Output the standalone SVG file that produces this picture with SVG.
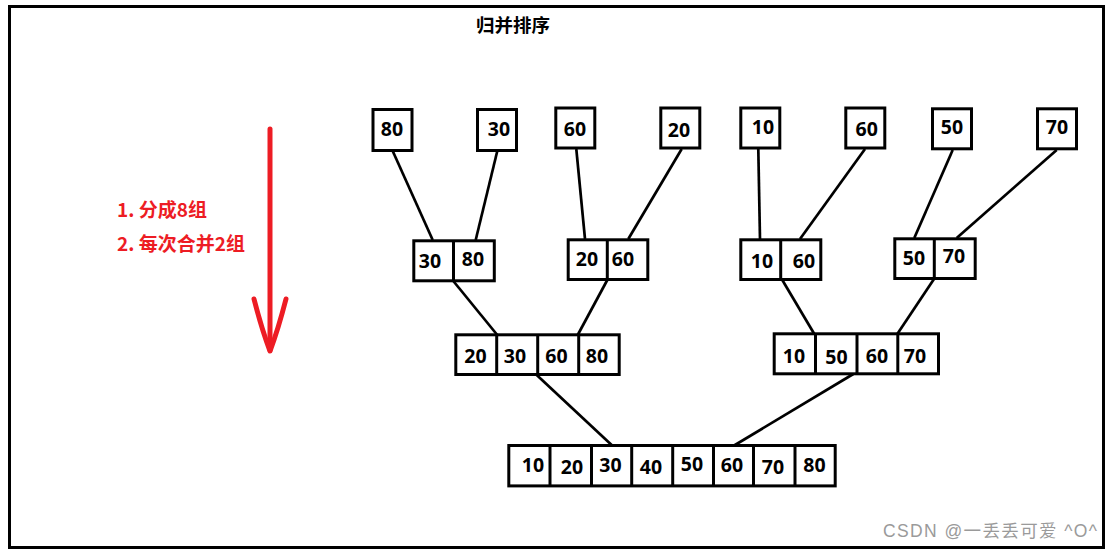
<svg xmlns="http://www.w3.org/2000/svg" width="1110" height="556" viewBox="0 0 1110 556">
<style>
.box{fill:#fff;stroke:#000;stroke-width:3}
.dv{stroke:#000;stroke-width:3}
.edge{stroke:#000;stroke-width:2.7;fill:none}
.num{font-family:"Noto Sans","Open Sans","Liberation Sans",sans-serif;font-weight:700;font-size:19.5px;text-anchor:middle;fill:#000}
.red{font-family:"Noto Sans CJK SC","Noto Sans",sans-serif;font-weight:700;font-size:19px;fill:#ED1C24}
</style>
<rect x="0" y="0" width="1110" height="556" fill="#fff"/>
<rect x="9.5" y="6.5" width="1094" height="541" fill="none" stroke="#000" stroke-width="3"/>
<text id="title" x="476" y="32" font-family="'Noto Sans CJK SC',sans-serif" font-weight="700" font-size="18.5px" fill="#000">归并排序</text>
<g id="steps">
<text class="red" x="117" y="217" textLength="90">1. 分成8组</text>
<text class="red" x="117" y="251" textLength="128">2. 每次合并2组</text>
</g>
<g id="arrow" stroke="#ED1C24" stroke-width="5" fill="none" stroke-linecap="round" stroke-linejoin="round">
<line x1="270" y1="129" x2="270" y2="350"/>
<path d="M254,299 Q262,330 270,351 Q278,330 286,299"/>
</g>
<g id="connectors">
<line class="edge" x1="392.7" y1="151" x2="432.7" y2="240"/>
<line class="edge" x1="497.3" y1="151" x2="475.7" y2="240"/>
<line class="edge" x1="576.3" y1="149" x2="585" y2="239"/>
<line class="edge" x1="681.7" y1="149" x2="628.3" y2="239"/>
<line class="edge" x1="758.3" y1="149" x2="760" y2="239"/>
<line class="edge" x1="865" y1="149" x2="800" y2="239"/>
<line class="edge" x1="952.7" y1="150" x2="914.3" y2="238"/>
<line class="edge" x1="1056.7" y1="150" x2="956.7" y2="238"/>
<line class="edge" x1="453.3" y1="281" x2="497.3" y2="335"/>
<line class="edge" x1="607.3" y1="280" x2="577.7" y2="335"/>
<line class="edge" x1="782.3" y1="280" x2="814.3" y2="334"/>
<line class="edge" x1="934" y1="279" x2="897.3" y2="334"/>
<line class="edge" x1="536.7" y1="375" x2="612.7" y2="446"/>
<line class="edge" x1="853.3" y1="374" x2="733.3" y2="446"/>
</g>
<g id="leaf-80"><rect class="box" x="373" y="109.5" width="39" height="41"/><text class="num" x="392" y="135.7">80</text></g>
<g id="leaf-30"><rect class="box" x="477.5" y="109.5" width="39" height="41"/><text class="num" x="499" y="135.7">30</text></g>
<g id="leaf-60a"><rect class="box" x="555.8" y="108" width="39" height="40"/><text class="num" x="575" y="135.7">60</text></g>
<g id="leaf-20"><rect class="box" x="660.8" y="108" width="39" height="40"/><text class="num" x="679" y="136.7">20</text></g>
<g id="leaf-10"><rect class="box" x="740.8" y="108" width="39" height="40"/><text class="num" x="763" y="134.3">10</text></g>
<g id="leaf-60b"><rect class="box" x="845.8" y="108" width="39" height="40"/><text class="num" x="866.7" y="136">60</text></g>
<g id="leaf-50"><rect class="box" x="932.5" y="108.8" width="39" height="40"/><text class="num" x="952" y="134">50</text></g>
<g id="leaf-70"><rect class="box" x="1037.5" y="108.8" width="39" height="40"/><text class="num" x="1057" y="134">70</text></g>
<g id="pair-30-80"><rect class="box" x="413.8" y="240.8" width="80.5" height="40"/><line class="dv" x1="453.5" y1="240.8" x2="453.5" y2="280.8"/><text class="num" x="430" y="267.7">30</text><text class="num" x="473" y="265.7">80</text></g>
<g id="pair-20-60"><rect class="box" x="568.2" y="239.8" width="79.6" height="39.7"/><line class="dv" x1="607.3" y1="239.8" x2="607.3" y2="279.5"/><text class="num" x="587" y="265.7">20</text><text class="num" x="623" y="265.7">60</text></g>
<g id="pair-10-60"><rect class="box" x="740.8" y="239.8" width="80" height="39.7"/><line class="dv" x1="780.7" y1="239.8" x2="780.7" y2="279.5"/><text class="num" x="762" y="267.7">10</text><text class="num" x="804" y="267.7">60</text></g>
<g id="pair-50-70"><rect class="box" x="894.8" y="238.8" width="80.4" height="39.7"/><line class="dv" x1="934.3" y1="238.8" x2="934.3" y2="278.5"/><text class="num" x="914" y="265">50</text><text class="num" x="954" y="263.3">70</text></g>
<g id="quad-left"><rect class="box" x="455.8" y="334.8" width="163.4" height="39.7"/><line class="dv" x1="496.7" y1="334.8" x2="496.7" y2="374.5"/><line class="dv" x1="537.7" y1="334.8" x2="537.7" y2="374.5"/><line class="dv" x1="578.7" y1="334.8" x2="578.7" y2="374.5"/><text class="num" x="475.5" y="362.7">20</text><text class="num" x="515" y="362.7">30</text><text class="num" x="556.5" y="362.7">60</text><text class="num" x="597" y="362.7">80</text></g>
<g id="quad-right"><rect class="box" x="774.2" y="333.8" width="164.3" height="40"/><line class="dv" x1="815.5" y1="333.8" x2="815.5" y2="373.8"/><line class="dv" x1="857" y1="333.8" x2="857" y2="373.8"/><line class="dv" x1="897.8" y1="333.8" x2="897.8" y2="373.8"/><text class="num" x="794" y="362.7">10</text><text class="num" x="836.5" y="364.3">50</text><text class="num" x="877" y="362.7">60</text><text class="num" x="915" y="362.7">70</text></g>
<g id="merged"><rect class="box" x="508.8" y="445.5" width="326.4" height="40.4"/>
<line class="dv" x1="550" y1="445.5" x2="550" y2="485.9"/><line class="dv" x1="591.5" y1="445.5" x2="591.5" y2="485.9"/><line class="dv" x1="631.7" y1="445.5" x2="631.7" y2="485.9"/><line class="dv" x1="672.7" y1="445.5" x2="672.7" y2="485.9"/><line class="dv" x1="713.5" y1="445.5" x2="713.5" y2="485.9"/><line class="dv" x1="753.5" y1="445.5" x2="753.5" y2="485.9"/><line class="dv" x1="795" y1="445.5" x2="795" y2="485.9"/>
<text class="num" x="533" y="471.7">10</text><text class="num" x="572" y="474">20</text><text class="num" x="610.5" y="472.3">30</text><text class="num" x="651" y="474">40</text><text class="num" x="692" y="471">50</text><text class="num" x="732" y="472.3">60</text><text class="num" x="773" y="474">70</text><text class="num" x="814.5" y="472.3">80</text></g>
<text id="watermark" x="883" y="537" textLength="214" font-family="'Liberation Sans','Noto Sans CJK SC',sans-serif" font-size="17.5px" fill="#9a9a9a">CSDN @一丢丢可爱 ^O^</text>
</svg>
